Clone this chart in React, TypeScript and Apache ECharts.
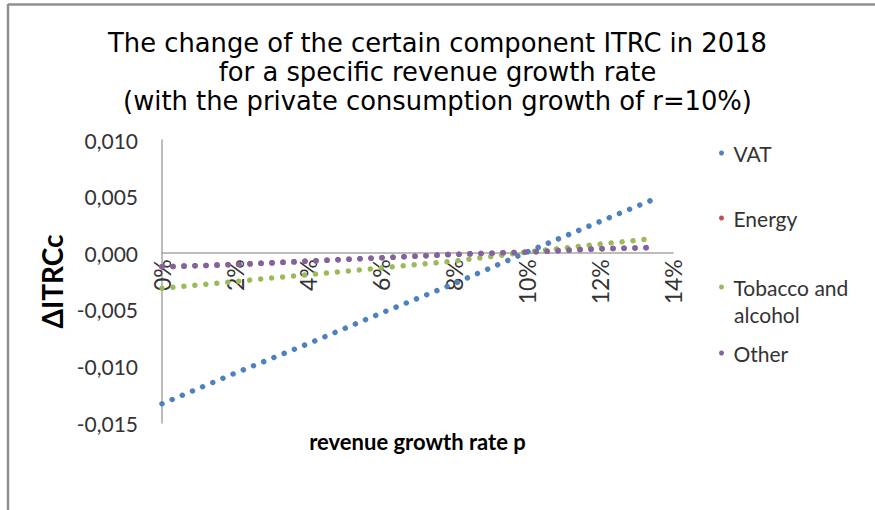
import React, { useEffect, useRef } from 'react';
import * as echarts from 'echarts';

const growthRates = [0, 0.02, 0.04, 0.06, 0.08, 0.1, 0.12, 0.135];
const vatValues = [-0.0133, -0.0106, -0.008, -0.0053, -0.0027, 0.0001, 0.0028, 0.0048];
const energyValues = [-0.0012, -0.001, -0.0007, -0.0004, -0.0001, 0.0001, 0.0004, 0.0005];
const tobaccoValues = [-0.0031, -0.0025, -0.0019, -0.0013, -0.0007, 0.0001, 0.0008, 0.0013];
const otherValues = [-0.0012, -0.001, -0.0007, -0.0004, -0.0001, 0.0001, 0.0004, 0.0005];

const seriesNames = ['VAT', 'Energy', 'Tobacco and alcohol', 'Other'];
const seriesColors = ['#4F81BD', '#C0504D', '#9BBB59', '#8064A2'];
const seriesValues = [vatValues, energyValues, tobaccoValues, otherValues];

const yMin = -0.015;
const yMax = 0.01;
const yStep = 0.005;
const xMin = 0;
const xMax = 0.14;
const xStep = 0.02;

const titleLines = [
  'The change of the certain component ITRC in 2018',
  'for a specific revenue growth rate',
  '(with the private consumption growth of r=10%)',
];
const yAxisTitle = 'ΔITRCc';
const xAxisTitle = 'revenue growth rate p';

export default function App() {
  const ref = useRef<HTMLDivElement>(null);
  useEffect(() => {
    const chart = echarts.init(ref.current!, null, { renderer: 'svg' });
    const gridTop = 140;
    const gridBottom = 87;
    const gridHeight = 510 - gridTop - gridBottom;
    const zeroOffset = -((0 - yMin) / (yMax - yMin)) * gridHeight;
    const legendText = { fontSize: 21, fontFamily: 'Lato', color: '#333', lineHeight: 27 };
    const legendBase = {
      orient: 'vertical',
      left: 719,
      icon: 'circle',
      itemWidth: 14,
      itemHeight: 5,
      padding: 0,
      textStyle: legendText,
    };
    chart.setOption({
      animation: false,
      backgroundColor: '#fff',
      title: {
        text: titleLines.join('\n'),
        left: 'center',
        top: 28,
        padding: [0, 0, 0, 8],
        textStyle: {
          fontSize: 25.8,
          fontWeight: 'normal',
          fontFamily: 'DejaVu Sans',
          color: '#000',
          lineHeight: 29,
        },
      },
      legend: [
        { ...legendBase, data: ['VAT'], top: 139.5 },
        { ...legendBase, data: ['Energy'], top: 204.5 },
        {
          ...legendBase,
          data: ['Tobacco and alcohol'],
          top: 273.5,
          formatter: () => 'Tobacco and',
        },
        { ...legendBase, data: ['Other'], top: 339.5 },
      ],
      graphic: [
        { type: 'line', shape: { x1: 8, y1: 4.5, x2: 875, y2: 4.5 }, style: { stroke: '#909090', lineWidth: 2.5 } },
        { type: 'line', shape: { x1: 8, y1: 4, x2: 8, y2: 510 }, style: { stroke: '#909090', lineWidth: 2.5 } },
        {
          type: 'text',
          left: 734,
          top: 300.5,
          style: { text: 'alcohol', fontSize: 21, fontFamily: 'Lato', fill: '#333', lineHeight: 27 },
        },
      ],
      grid: { left: 162, right: 202, top: gridTop, bottom: gridBottom, containLabel: false, outerBoundsMode: 'none' },
      xAxis: {
        type: 'value',
        min: xMin,
        max: xMax,
        interval: xStep,
        offset: zeroOffset,
        axisLine: { show: true, onZero: false, lineStyle: { color: '#A6A6A6', width: 1.5 } },
        axisTick: { show: false },
        splitLine: { show: false },
        axisLabel: {
          rotate: 90,
          margin: 6,
          fontSize: 23,
          fontFamily: 'Lato',
          color: '#333',
          formatter: (v: number) => Math.round(v * 100) + '%',
        },
        name: xAxisTitle,
        nameLocation: 'middle',
        nameGap: 177,
        nameTextStyle: { fontSize: 22, fontWeight: 'bold', fontFamily: 'Lato', color: '#000' },
      },
      yAxis: {
        type: 'value',
        min: yMin,
        max: yMax,
        interval: yStep,
        axisLine: { show: true, lineStyle: { color: '#A6A6A6', width: 1.5 } },
        axisTick: { show: false },
        splitLine: { show: false },
        axisLabel: {
          margin: 24,
          fontSize: 21,
          fontFamily: 'Lato',
          color: '#333',
          formatter: (v: number) => (Math.abs(v) < 1e-9 ? 0 : v).toFixed(3).replace('.', ','),
        },
        name: yAxisTitle,
        nameLocation: 'middle',
        nameGap: 94,
        nameRotate: 90,
        nameTextStyle: { fontSize: 28, fontWeight: 'bold', fontFamily: 'Lato', color: '#000' },
      },
      series: seriesNames.map((name, i) => ({
        name,
        type: 'line',
        showSymbol: false,
        symbol: 'circle',
        color: seriesColors[i],
        data: growthRates.map((p, j) => [p, seriesValues[i][j]]),
        lineStyle: { width: 5.5, type: [0.01, 11], cap: 'round', color: seriesColors[i] },
      })),
    });
    return () => chart.dispose();
  }, []);
  return (
    <div
      ref={ref}
      style={{ position: 'absolute', left: 0, top: 0, width: 875, height: 510, background: '#fff' }}
    />
  );
}
